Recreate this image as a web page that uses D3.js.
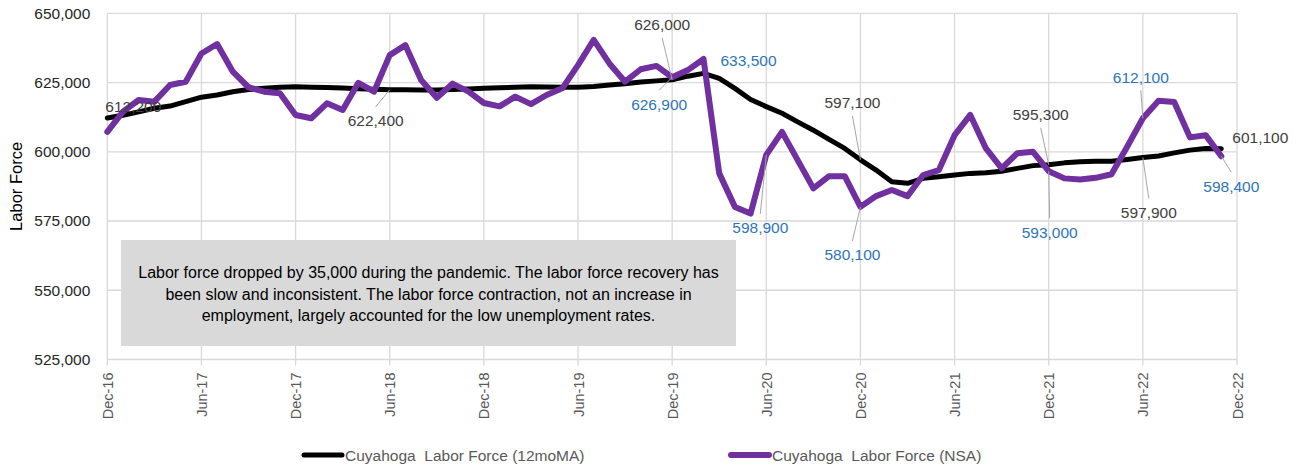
<!DOCTYPE html>
<html>
<head>
<meta charset="utf-8">
<script src="https://cdn.jsdelivr.net/npm/d3@7"></script>
<style>
  body { margin: 0; background: #fff; }
  svg { display: block; font-family: "Liberation Sans", Arial, sans-serif; }
</style>
</head>
<body>
<svg id="chart"></svg>
<script>
// month index 0 = Dec-16 ... 71 = Nov-22
const tickLabels = ["Dec-16", "Jun-17", "Dec-17", "Jun-18", "Dec-18", "Jun-19", "Dec-19",
                    "Jun-20", "Dec-20", "Jun-21", "Dec-21", "Jun-22", "Dec-22"];
const yTicks = [525000, 550000, 575000, 600000, 625000, 650000];

const maValues = [
    612200, 613200, 614400, 615700, 616500, 618100, 619700, 620500, 621700, 622500, 622900, 623300,
    623500, 623300, 623200, 623000, 622800, 622600, 622400, 622400, 622300, 622300, 622500, 622700,
    622900, 623100, 623300, 623500, 623400, 623300, 623300, 623600, 624100, 624600, 625200, 625600,
    626000, 627300, 628300, 626500, 622900, 618900, 616300, 613900, 610800, 607800, 604500, 601200,
    597100, 593400, 589200, 588600, 590400, 591000, 591600, 592200, 592400, 593000, 594000, 595000,
    595300, 596000, 596400, 596600, 596600, 597200, 597900, 598500, 599600, 600600, 601200, 601100
];

const nsaValues = [
    607200, 614500, 618700, 618100, 624100, 625300, 635500, 638900, 628900, 623300, 621700, 621100,
    613300, 612100, 617500, 615100, 624900, 621700, 634900, 638500, 625900, 619500, 624600, 621800,
    617600, 616400, 619900, 617200, 620500, 622900, 631300, 640400, 631900, 625300, 629800, 631000,
    626900, 629500, 633500, 592200, 580100, 577700, 598900, 607200, 597000, 586800, 591200, 591200,
    580100, 584000, 586200, 584000, 591600, 593400, 606000, 613300, 601200, 594000, 599500, 600000,
    593000, 590400, 590000, 590600, 591900, 601800, 612100, 618400, 618000, 605200, 606000, 598400
];

const seriesNames = ["Cuyahoga  Labor Force (12moMA)", "Cuyahoga  Labor Force (NSA)"];
const noteLines = [
    "Labor force dropped by 35,000 during the pandemic. The labor force recovery has",
    "been slow and inconsistent. The labor force contraction, not an increase in",
    "employment, largely accounted for the low unemployment rates."
];

// which points get a value label (series, month index)
const callouts = [
    {s: "ma", i: 0, dx: 26, dy: -12, leader: false},
    {s: "ma", i: 18, dx: -14, dy: 31, leader: true},
    {s: "ma", i: 36, dx: -10, dy: -55, leader: true},
    {s: "nsa", i: 36, dx: -13, dy: 27, leader: true},
    {s: "nsa", i: 38, dx: 45, dy: 1, leader: false},
    {s: "nsa", i: 42, dx: -6, dy: 73, leader: true},
    {s: "ma", i: 48, dx: -8, dy: -57, leader: true},
    {s: "nsa", i: 48, dx: -8, dy: 48, leader: true},
    {s: "ma", i: 60, dx: -8, dy: -50, leader: true},
    {s: "nsa", i: 60, dx: 1, dy: 61, leader: true},
    {s: "nsa", i: 66, dx: -2, dy: -41, leader: true},
    {s: "ma", i: 66, dx: 6, dy: 55, leader: true},
    {s: "ma", i: 71, dx: 39, dy: -11, leader: false},
    {s: "nsa", i: 71, dx: 10, dy: 30, leader: true}
];

let width = 1299, height = 467;
let plot = {left: 107.3, right: 1237, top: 13.3, bottom: 359.5};

let svg = d3.select("#chart").attr("width", width).attr("height", height);

let x = d3.scaleLinear([0, 72], [plot.left, plot.right]);
let y = d3.scaleLinear([525000, 650000], [plot.bottom, plot.top]);
let fmt = d3.format(",");

let series = {ma: maValues, nsa: nsaValues};
let colors = {ma: "#000000", nsa: "#7030a0"};
let labelColors = {ma: "#404040", nsa: "#2e75b6"};

// gridlines
svg.append("g")
    .selectAll("line")
    .data(yTicks)
    .join("line")
    .attr("x1", plot.left).attr("x2", plot.right)
    .attr("y1", d => y(d)).attr("y2", d => y(d))
    .attr("stroke", "#d9d9d9").attr("stroke-width", 1.3);

let xTickValues = tickLabels.map((_, k) => k * 6);

svg.append("g")
    .selectAll("line")
    .data(xTickValues)
    .join("line")
    .attr("x1", d => x(d)).attr("x2", d => x(d))
    .attr("y1", plot.top).attr("y2", plot.bottom + 6)
    .attr("stroke", "#d9d9d9").attr("stroke-width", 1.3);

// y axis labels
let yAxis = d3.axisLeft(y).tickValues(yTicks).tickFormat(fmt).tickSize(0).tickPadding(17);
svg.append("g")
    .attr("transform", `translate(${plot.left},0)`)
    .call(yAxis)
    .call(g => g.select(".domain").remove())
    .selectAll("text")
    .style("font-size", "15.5px")
    .attr("fill", "#262626");

// x axis labels, rotated
let xAxis = d3.axisBottom(x).tickValues(xTickValues).tickFormat((d, k) => tickLabels[k]).tickSize(0);
svg.append("g")
    .attr("transform", `translate(0,${plot.bottom})`)
    .call(xAxis)
    .call(g => g.select(".domain").remove())
    .selectAll("text")
    .style("font-size", "14.5px")
    .attr("fill", "#595959")
    .attr("text-anchor", "end")
    .attr("transform", "rotate(-90)")
    .attr("x", -13)
    .attr("y", 0)
    .attr("dy", "0.35em");

// y title
svg.append("text")
    .attr("transform", `translate(22,${(plot.top + plot.bottom) / 2}) rotate(-90)`)
    .attr("text-anchor", "middle")
    .style("font-size", "16.5px")
    .attr("fill", "#000")
    .text("Labor Force");

// note box
let note = svg.append("g");
note.append("rect")
    .attr("x", 121).attr("y", 240)
    .attr("width", 615).attr("height", 106)
    .attr("fill", "#d9d9d9");
note.selectAll("text")
    .data(noteLines)
    .join("text")
    .attr("x", 428.5)
    .attr("y", (d, k) => 278 + k * 21.6)
    .attr("text-anchor", "middle")
    .style("font-size", "16px")
    .attr("fill", "#000")
    .text(d => d);

// lines
let line = d3.line().x((d, i) => x(i)).y(d => y(d));

svg.append("path")
    .datum(maValues)
    .attr("d", line)
    .attr("fill", "none")
    .attr("stroke", colors.ma)
    .attr("stroke-width", 5)
    .attr("stroke-linejoin", "round")
    .attr("stroke-linecap", "round");

svg.append("path")
    .datum(nsaValues)
    .attr("d", line)
    .attr("fill", "none")
    .attr("stroke", colors.nsa)
    .attr("stroke-width", 6)
    .attr("stroke-linejoin", "round")
    .attr("stroke-linecap", "round");

// callouts
let labelG = svg.append("g");
callouts.forEach(c =>
{
    let v = series[c.s][c.i];
    let px = x(c.i), py = y(v);
    let cx = px + c.dx, cy = py + c.dy;
    if (c.leader)
    {
        let sy = c.dy > 0 ? cy - 14 : cy + 13;
        labelG.append("line")
            .attr("x1", cx).attr("y1", sy)
            .attr("x2", px).attr("y2", py)
            .attr("stroke", "#a6a6a6").attr("stroke-width", 1);
    }
    labelG.append("text")
        .attr("x", cx).attr("y", cy)
        .attr("dy", "0.36em")
        .attr("text-anchor", "middle")
        .style("font-size", "15.5px")
        .attr("fill", labelColors[c.s])
        .text(fmt(v));
});

// legend
let legend = svg.append("g");
let legendItems = [
    {name: seriesNames[0], color: colors.ma, w: 5, x0: 304},
    {name: seriesNames[1], color: colors.nsa, w: 6, x0: 731}
];
legendItems.forEach(d =>
{
    legend.append("line")
        .attr("x1", d.x0).attr("x2", d.x0 + 38)
        .attr("y1", 455).attr("y2", 455)
        .attr("stroke", d.color).attr("stroke-width", d.w)
        .attr("stroke-linecap", "round");
    legend.append("text")
        .attr("x", d.x0 + 41).attr("y", 455)
        .attr("dy", "0.36em")
        .style("font-size", "15.5px")
        .style("white-space", "pre")
        .attr("fill", "#595959")
        .text(d.name);
});
</script>
</body>
</html>
